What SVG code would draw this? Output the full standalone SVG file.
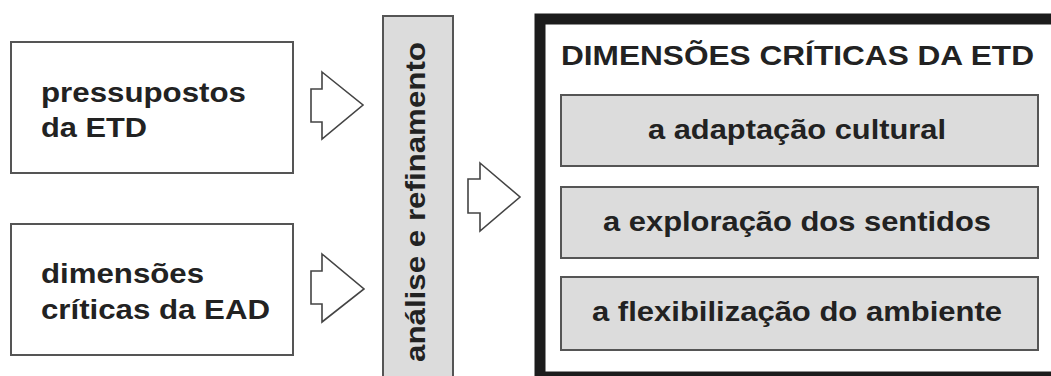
<svg xmlns="http://www.w3.org/2000/svg" width="1051" height="376" viewBox="0 0 1051 376">
  <style>
    .lbl { font-family: "Liberation Sans", Arial, Helvetica, sans-serif; font-weight: bold; font-size: 28px; fill: #222; }
    .box { fill: #ffffff; stroke: #555; stroke-width: 2; }
    .grey { fill: #dcdcdc; stroke: #555; stroke-width: 2; }
    .arrow { fill: #ffffff; stroke: #444; stroke-width: 1.6; stroke-linejoin: miter; }
    .frame { fill: #ffffff; stroke: #1c1c1c; stroke-width: 11; }
  </style>
  <rect width="1051" height="376" fill="#ffffff"/>

  <!-- input: assumptions -->
  <g id="pressupostos">
    <rect class="box" x="11" y="42" width="282" height="131"/>
    <text class="lbl" x="41" y="102" textLength="205" lengthAdjust="spacingAndGlyphs">pressupostos</text>
    <text class="lbl" x="41" y="137" textLength="106" lengthAdjust="spacingAndGlyphs">da ETD</text>
  </g>

  <!-- input: critical dimensions of distance education -->
  <g id="dimensoes-ead">
    <rect class="box" x="11" y="224" width="282" height="131"/>
    <text class="lbl" x="41" y="283" textLength="163" lengthAdjust="spacingAndGlyphs">dimensões</text>
    <text class="lbl" x="41" y="319" textLength="229" lengthAdjust="spacingAndGlyphs">críticas da EAD</text>
  </g>

  <!-- vertical process bar -->
  <g id="analise">
    <rect class="grey" x="383" y="16" width="70" height="380"/>
    <text class="lbl" transform="translate(425,202) rotate(-90)" text-anchor="middle" textLength="320" lengthAdjust="spacingAndGlyphs">análise e refinamento</text>
  </g>

  <!-- result frame -->
  <g id="dimensoes-etd">
    <rect class="frame" x="540" y="19" width="540" height="358"/>
    <text class="lbl" x="561" y="65" textLength="473" lengthAdjust="spacingAndGlyphs">DIMENSÕES CRÍTICAS DA ETD</text>
  </g>
  <g id="adaptacao">
    <rect class="grey" x="561" y="95" width="477" height="71"/>
    <text class="lbl" x="797" y="139" text-anchor="middle" textLength="298" lengthAdjust="spacingAndGlyphs">a adaptação cultural</text>
  </g>
  <g id="exploracao">
    <rect class="grey" x="561" y="187" width="477" height="71"/>
    <text class="lbl" x="797" y="231" text-anchor="middle" textLength="388" lengthAdjust="spacingAndGlyphs">a exploração dos sentidos</text>
  </g>
  <g id="flexibilizacao">
    <rect class="grey" x="561" y="277" width="477" height="73"/>
    <text class="lbl" x="797" y="321" text-anchor="middle" textLength="410" lengthAdjust="spacingAndGlyphs">a flexibilização do ambiente</text>
  </g>

  <!-- block arrows -->
  <g id="connectors">
    <polygon class="arrow" points="322,72 363,105 322,139 322,122 311,122 311,89 322,89"/>
    <polygon class="arrow" points="322,254 364,289 322,322 322,304 311,304 311,271 322,271"/>
    <polygon class="arrow" points="480,163 520,197 480,231 480,213 468,213 468,179 480,179"/>
  </g>
</svg>
